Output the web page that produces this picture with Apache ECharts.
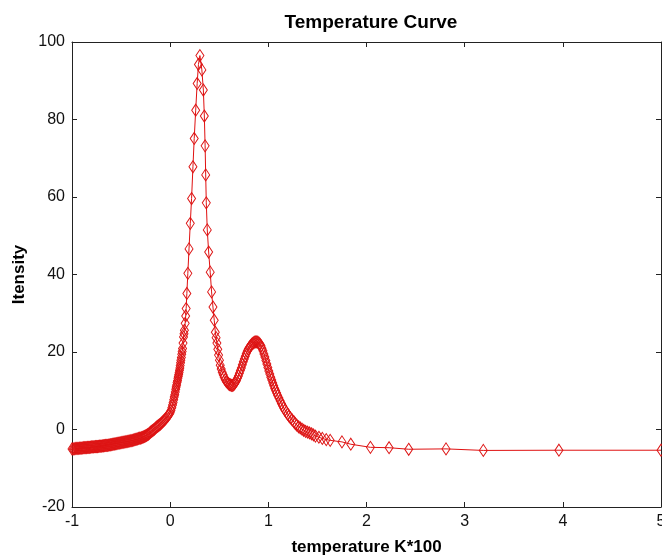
<!DOCTYPE html>
<html>
<head>
<meta charset="utf-8">
<script src="https://cdn.jsdelivr.net/npm/echarts@6/dist/echarts.min.js"></script>
<style>
html,body{margin:0;padding:0;background:#fff;}
#chart{width:662px;height:557px;}
</style>
</head>
<body>
<div id="chart"></div>
<script>
// Data
var xValues = [
  -1.00,-0.99,-0.98,-0.97,-0.96,-0.95,-0.94,-0.93,-0.92,-0.91,
  -0.90,-0.89,-0.88,-0.87,-0.86,-0.85,-0.84,-0.83,-0.82,-0.81,
  -0.80,-0.79,-0.78,-0.77,-0.76,-0.75,-0.74,-0.73,-0.72,-0.71,
  -0.70,-0.69,-0.68,-0.67,-0.66,-0.65,-0.64,-0.63,-0.62,-0.61,
  -0.60,-0.59,-0.58,-0.57,-0.56,-0.55,-0.54,-0.53,-0.52,-0.51,
  -0.50,-0.49,-0.48,-0.47,-0.46,-0.45,-0.44,-0.43,-0.42,-0.41,
  -0.40,-0.39,-0.38,-0.37,-0.36,-0.35,-0.34,-0.33,-0.32,-0.31,
  -0.30,-0.29,-0.28,-0.27,-0.26,-0.25,-0.24,-0.23,-0.22,-0.21,
  -0.20,-0.19,-0.18,-0.17,-0.16,-0.15,-0.14,-0.13,-0.12,-0.11,
  -0.10,-0.09,-0.08,-0.07,-0.06,-0.05,-0.04,-0.03,-0.02,-0.01,
  0.000,0.008,0.017,0.024,0.030,0.036,0.041,0.047,0.052,0.057,
  0.061,0.066,0.070,0.075,0.079,0.083,0.087,0.091,0.095,0.099,
  0.102,0.106,0.109,0.114,0.118,0.122,0.126,0.131,0.136,0.141,
  0.145,0.153,0.158,0.163,0.170,0.180,0.192,0.205,0.218,0.232,
  0.245,0.260,0.275,0.288,0.303,0.323,0.338,0.348,0.356,0.362,
  0.368,0.378,0.392,0.408,0.422,0.436,0.449,0.460,0.468,0.476,
  0.485,0.493,0.502,0.510,0.520,0.530,0.540,0.550,0.561,0.572,
  0.583,0.595,0.605,0.615,0.625,0.635,0.645,0.655,0.665,0.675,
  0.685,0.695,0.705,0.715,0.725,0.735,0.745,0.755,0.765,0.775,
  0.785,0.795,0.805,0.815,0.825,0.835,0.845,0.855,0.865,0.875,
  0.885,0.895,0.905,0.915,0.925,0.935,0.945,0.955,0.965,0.975,
  0.985,0.995,1.005,1.015,1.025,1.035,1.045,1.055,1.065,1.075,
  1.085,1.095,1.108,1.120,1.133,1.145,1.158,1.170,1.183,1.195,
  1.210,1.225,1.243,1.260,1.275,1.290,1.308,1.325,1.343,1.360,
  1.380,1.400,1.420,1.440,1.460,1.480,1.515,1.550,1.590,1.630,
  1.750,1.840,2.040,2.230,2.430,2.810,3.190,3.960,5.000
];
var yValues = [
  -5.0,-5.0,-5.0,-4.95,-4.9,-4.9,-4.9,-4.85,-4.8,-4.8,
  -4.8,-4.75,-4.7,-4.7,-4.7,-4.65,-4.6,-4.6,-4.6,-4.55,
  -4.5,-4.5,-4.5,-4.45,-4.4,-4.4,-4.4,-4.35,-4.3,-4.3,
  -4.3,-4.25,-4.2,-4.15,-4.1,-4.1,-4.1,-4.05,-4.0,-3.95,
  -3.9,-3.85,-3.8,-3.75,-3.7,-3.65,-3.6,-3.55,-3.5,-3.45,
  -3.4,-3.35,-3.3,-3.25,-3.2,-3.15,-3.1,-3.05,-3.0,-2.95,
  -2.9,-2.85,-2.8,-2.7,-2.6,-2.55,-2.5,-2.4,-2.3,-2.25,
  -2.2,-2.1,-2.0,-1.9,-1.8,-1.65,-1.5,-1.35,-1.2,-0.95,
  -0.7,-0.5,-0.3,-0.1,0.1,0.35,0.6,0.8,1.0,1.2,
  1.4,1.65,1.9,2.15,2.4,2.7,3.0,3.3,3.6,3.95,
  4.3,4.9,5.6,6.3,7.0,7.7,8.4,9.0,9.7,10.4,
  11.0,11.5,12.1,12.6,13.2,13.7,14.2,14.7,15.3,15.9,
  16.5,17.2,17.9,18.6,19.4,20.1,20.9,22.3,23.9,24.7,
  25.6,27.4,29.3,31.2,35.1,40.3,46.6,53.2,59.6,67.8,
  75.1,82.4,89.3,94.2,96.5,92.8,87.6,80.9,73.2,65.7,
  58.5,51.5,45.8,40.6,35.5,31.6,28.2,25.1,23.7,22.3,
  20.7,19.2,17.9,16.6,15.6,14.8,14.1,13.5,12.9,12.4,
  12.1,11.8,11.6,11.5,11.4,11.4,11.5,11.8,12.2,12.6,
  13.2,13.8,14.5,15.2,15.9,16.7,17.5,18.2,18.9,19.6,
  20.2,20.7,21.1,21.5,21.8,22.1,22.3,22.5,22.6,22.6,
  22.6,22.5,22.3,22.0,21.6,21.0,20.3,19.5,18.7,17.8,
  16.9,16.0,15.1,14.3,13.5,12.8,12.0,11.3,10.6,10.0,
  9.4,8.8,8.1,7.4,6.7,6.1,5.5,5.0,4.5,4.0,
  3.5,3.0,2.5,2.0,1.5,1.1,0.7,0.4,0.1,-0.2,
  -0.5,-0.7,-0.9,-1.1,-1.4,-1.7,-2.0,-2.3,-2.6,-2.8,
  -3.2,-3.8,-4.6,-4.7,-5.1,-5.0,-5.4,-5.35,-5.35
];
var xTicks = [-1, 0, 1, 2, 3, 4, 5];
var yTicks = [-20, 0, 20, 40, 60, 80, 100];
var titleText = 'Temperature Curve';
var xName = 'temperature K*100';
var yName = 'Itensity';

var points = xValues.map(function (x, i) { return [x, yValues[i]]; });

var chart = echarts.init(document.getElementById('chart'), null, {renderer: 'canvas'});
var axisColor = '#222';
var tickFont = {fontFamily: 'Liberation Sans', fontSize: 16, color: '#111'};
var baseAxis = {
  axisLine: {show: true, onZero: false, lineStyle: {color: axisColor, width: 1}},
  axisTick: {show: true, inside: true, length: 5, lineStyle: {color: axisColor}},
  splitLine: {show: false}
};
chart.setOption({
  backgroundColor: '#ffffff',
  animation: false,
  title: {
    text: titleText,
    left: 366,
    top: 8,
    textAlign: 'center',
    textStyle: {fontFamily: 'Liberation Sans', fontSize: 19, fontWeight: 'bold', color: '#000'}
  },
  grid: {left: 72, right: 1, top: 42, bottom: 50, containLabel: false, outerBoundsMode: 'none'},
  xAxis: [
    Object.assign({}, baseAxis, {
      type: 'value', min: xTicks[0], max: xTicks[xTicks.length - 1], interval: 1,
      position: 'bottom',
      axisLabel: Object.assign({margin: 7}, tickFont),
      name: xName, nameLocation: 'middle', nameGap: 32,
      nameTextStyle: {fontFamily: 'Liberation Sans', fontSize: 17, fontWeight: 'bold', color: '#000'}
    }),
    Object.assign({}, baseAxis, {
      type: 'value', min: xTicks[0], max: xTicks[xTicks.length - 1], interval: 1,
      position: 'top', axisLabel: {show: false}
    })
  ],
  yAxis: [
    Object.assign({}, baseAxis, {
      type: 'value', min: yTicks[0], max: yTicks[yTicks.length - 1], interval: 20,
      position: 'left',
      axisLabel: Object.assign({margin: 7}, tickFont),
      name: yName, nameLocation: 'middle', nameGap: 41, nameRotate: 90,
      nameTextStyle: {fontFamily: 'Liberation Sans', fontSize: 17, fontWeight: 'bold', color: '#000'}
    }),
    Object.assign({}, baseAxis, {
      type: 'value', min: yTicks[0], max: yTicks[yTicks.length - 1], interval: 20,
      position: 'right', axisLabel: {show: false}
    })
  ],
  series: [{
    type: 'line',
    xAxisIndex: 0,
    yAxisIndex: 0,
    data: points,
    showSymbol: true,
    showAllSymbol: true,
    symbol: 'diamond',
    symbolSize: [8, 12],
    lineStyle: {color: '#e01010', width: 1},
    itemStyle: {color: 'rgba(255,255,255,0)', borderColor: '#dd1414', borderWidth: 1},
    emphasis: {disabled: true}
  }]
});
</script>
</body>
</html>
